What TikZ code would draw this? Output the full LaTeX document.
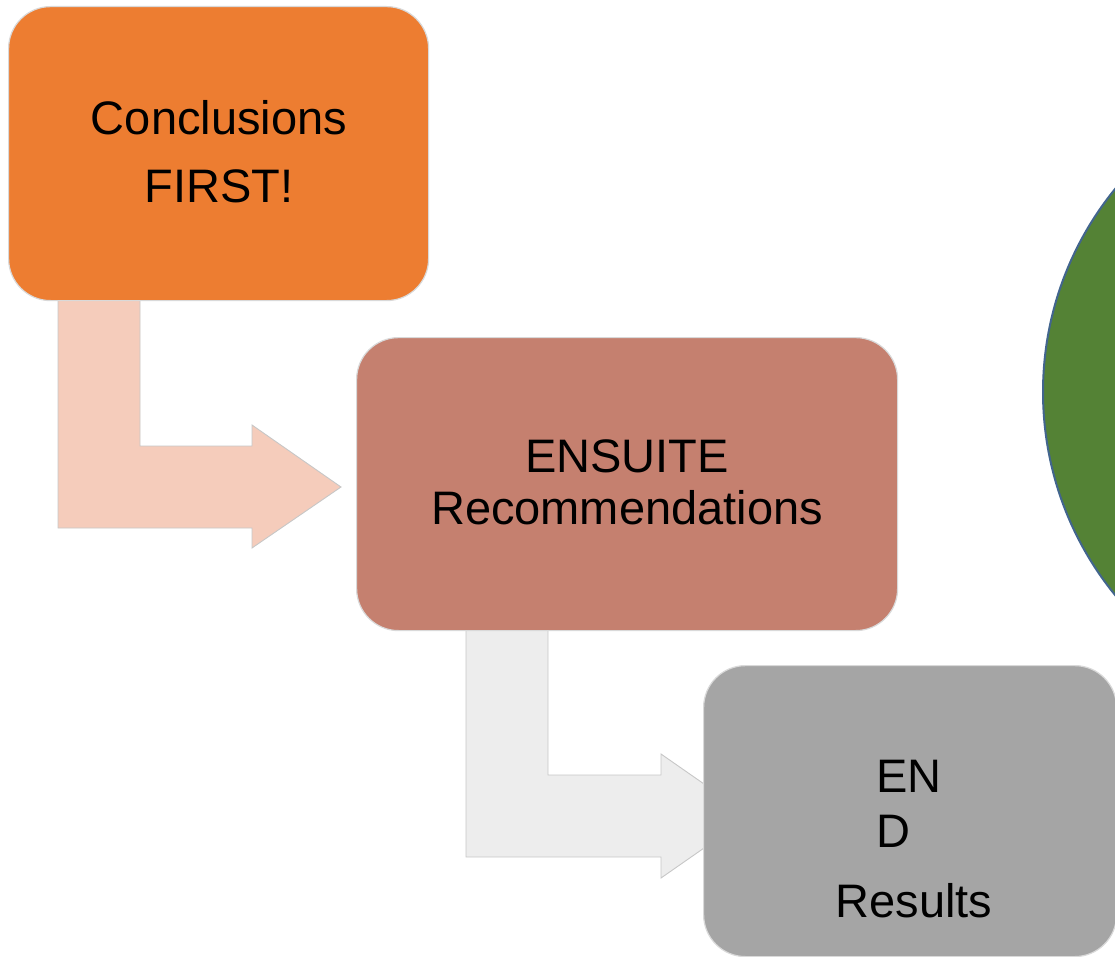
\documentclass[tikz,border=0pt]{standalone}
\usepackage{fontspec}
\setmainfont{Liberation Sans}
\definecolor{stageorange}{HTML}{ED7D31}
\definecolor{stagerose}{HTML}{C5806F}
\definecolor{stagegray}{HTML}{A5A5A5}
\definecolor{arrowpeach}{HTML}{F5CCBB}
\definecolor{arrowlight}{HTML}{EDEDED}
\definecolor{goalgreen}{HTML}{548235}
\definecolor{goaledge}{HTML}{42658E}
\begin{document}
\begin{tikzpicture}[x=1pt,y=-1pt,
  stagebox/.style={rectangle, rounded corners=42pt, draw=black!15, line width=1.2pt,
    inner sep=0pt, anchor=north west, minimum width=#1},
  bentarrow/.style={draw=black!22, line width=0.9pt, line join=miter},
  lbl/.style={font=\fontsize{47}{56}\selectfont, inner sep=0pt}]
\useasboundingbox (0,0) rectangle (1115,957);
\clip (0,0) rectangle (1115,957);

% goal disc on the right
\node[circle, minimum size=644pt, fill=goalgreen, draw=goaledge, line width=2pt] (goal) at (1365,392) {};

% bent arrows between the stages
\path[bentarrow, fill=arrowpeach]
  (58,298) -- (140,298) -- (140,446) -- (252,446) -- (252,425) -- (341,487)
  -- (252,548) -- (252,528) -- (58,528) -- cycle;
\path[bentarrow, fill=arrowlight]
  (466,628) -- (548,628) -- (548,775) -- (661,775) -- (661,754) -- (750,816)
  -- (661,878) -- (661,857) -- (466,857) -- cycle;

% stage boxes
\node[stagebox=420pt, minimum height=294pt, fill=stageorange] (first) at (8,6) {};
\node[stagebox=541pt, minimum height=293pt, fill=stagerose] (ensuite) at (356,337) {};
\node[stagebox=413pt, minimum height=291pt, fill=stagegray] (endres) at (703,665) {};

% labels
\node[lbl, anchor=base] (t1a) at (219,135) {Conclusions};
\node[lbl, anchor=base] (t1b) at (219,203) {FIRST!};
\node[lbl, anchor=base] (t2a) at (627,472) {ENSUITE};
\node[lbl, anchor=base] (t2b) at (627,524) {Recommendations};
\node[lbl, anchor=base west] (t3a) at (876,792) {EN};
\node[lbl, anchor=base west] (t3b) at (876,847) {D};
\node[lbl, anchor=base] (t3c) at (914,917) {Results};
\end{tikzpicture}
\end{document}
